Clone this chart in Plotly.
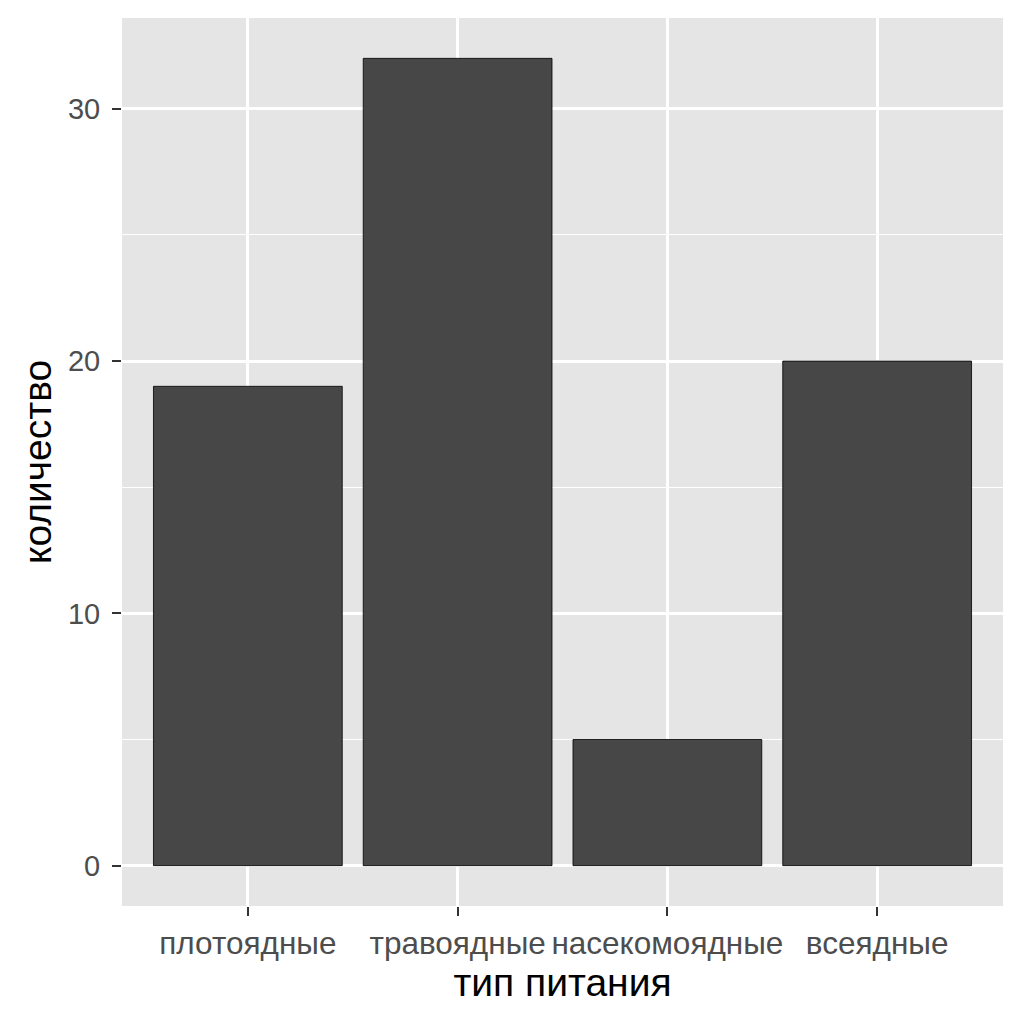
import plotly.graph_objects as go

categories = ["плотоядные", "травоядные", "насекомоядные", "всеядные"]
counts = [19, 32, 5, 20]
y_ticks = [0, 10, 20, 30]

fig = go.Figure(go.Bar(
    x=categories, y=counts,
    width=0.9,
    marker=dict(color="#474747", line=dict(color="#000000", width=0.8)),
))

fig.update_layout(
    width=1024, height=1024,
    margin=dict(l=114, r=29, t=10, b=126),
    paper_bgcolor="white",
    plot_bgcolor="#E5E5E5",
    font=dict(family="Liberation Sans, Arial, sans-serif"),
    showlegend=False,
    bargap=0.1,
)
fig.update_xaxes(
    title=dict(text="тип питания", font=dict(size=39, color="black"), standoff=8),
    range=[-0.6, 3.6],
    showgrid=True, gridcolor="white", gridwidth=2.5,
    ticks="outside", ticklen=9, tickwidth=2, tickcolor="#333333",
    tickfont=dict(size=31.5, color="#4D4D4D"),
    showline=False, zeroline=False,
)
fig.update_yaxes(
    title=dict(text="количество", font=dict(size=39, color="black"), standoff=4),
    range=[-1.6, 33.6],
    tickvals=y_ticks,
    showgrid=True, gridcolor="white", gridwidth=2.5,
    minor=dict(dtick=5, tick0=0, showgrid=True, gridcolor="white", gridwidth=1.2),
    ticks="outside", ticklen=9, tickwidth=2, tickcolor="#333333",
    tickfont=dict(size=29, color="#4D4D4D"),
    ticklabelstandoff=6,
    showline=False, zeroline=False,
)

fig.write_html("out.html")
